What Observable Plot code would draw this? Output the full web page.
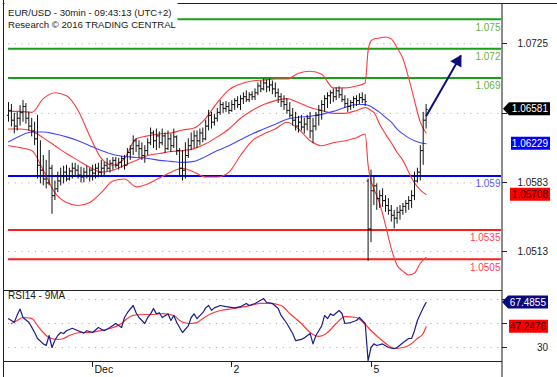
<!DOCTYPE html>
<html><head><meta charset="utf-8">
<script src="https://cdn.jsdelivr.net/npm/d3@7"></script>
<script src="https://cdn.jsdelivr.net/npm/@observablehq/plot@0.6"></script>
<style>
body{margin:0;background:#fff;}
#chart{position:relative;width:557px;height:377px;overflow:hidden;background:#fff;font-family:"Liberation Sans",Arial,sans-serif;}
#chart svg{position:absolute;left:0;display:block;}
</style></head><body><div id="chart"></div>
<script>
// ---------- DATA ----------
const titleLine1 = "EUR/USD - 30min - 09:43:13 (UTC+2)";
const titleLine2 = "Research \u00A9 2016 TRADING CENTRAL";
const rsiTitle = "RSI14 - 9MA";

const barOpen = [
1.0652,1.0657,1.0647,1.0641,1.0649,1.0655,1.0661,1.0649,1.0641,1.0636,
1.0628,1.0601,1.0596,1.0587,1.0583,1.0598,1.0570,1.0577,1.0585,1.0590,
1.0594,1.0587,1.0595,1.0598,1.0596,1.0591,1.0589,1.0594,1.0590,1.0596,
1.0593,1.0598,1.0594,1.0598,1.0601,1.0598,1.0603,1.0606,1.0601,1.0604,
1.0608,1.0601,1.0614,1.0618,1.0626,1.0621,1.0618,1.0611,1.0616,1.0624,
1.0634,1.0626,1.0631,1.0624,1.0631,1.0618,1.0628,1.0621,1.0630,1.0616,
1.0598,1.0596,1.0611,1.0621,1.0626,1.0631,1.0626,1.0634,1.0628,1.0641,
1.0652,1.0645,1.0649,1.0655,1.0663,1.0659,1.0661,1.0657,1.0663,1.0667,
1.0663,1.0669,1.0671,1.0668,1.0673,1.0671,1.0675,1.0682,1.0679,1.0685,
1.0681,1.0683,1.0679,1.0675,1.0671,1.0666,1.0663,1.0657,1.0652,1.0647,
1.0641,1.0645,1.0640,1.0643,1.0649,1.0636,1.0641,1.0652,1.0657,1.0663,
1.0669,1.0672,1.0675,1.0671,1.0677,1.0673,1.0668,1.0664,1.0661,1.0665,
1.0669,1.0667,1.0670,1.0668,1.0585,1.0536,1.0575,1.0580,1.0567,1.0570,
1.0565,1.0560,1.0555,1.0550,1.0547,1.0553,1.0555,1.0559,1.0562,1.0565,
1.0570,1.0585,1.0594,1.0616,1.0647];
const barHigh = [
1.0665,1.0663,1.0654,1.0655,1.0662,1.0667,1.0664,1.0655,1.0649,1.0645,
1.0652,1.0626,1.0611,1.0606,1.0616,1.0601,1.0585,1.0594,1.0598,1.0600,
1.0601,1.0598,1.0603,1.0603,1.0601,1.0599,1.0598,1.0600,1.0598,1.0601,
1.0602,1.0603,1.0606,1.0604,1.0608,1.0606,1.0609,1.0609,1.0608,1.0610,
1.0611,1.0618,1.0621,1.0631,1.0628,1.0626,1.0624,1.0621,1.0628,1.0639,
1.0636,1.0638,1.0635,1.0638,1.0634,1.0636,1.0633,1.0638,1.0631,1.0618,
1.0616,1.0624,1.0628,1.0634,1.0636,1.0636,1.0638,1.0639,1.0647,1.0657,
1.0655,1.0653,1.0659,1.0667,1.0665,1.0666,1.0665,1.0667,1.0669,1.0671,
1.0672,1.0675,1.0677,1.0675,1.0676,1.0679,1.0685,1.0687,1.0689,1.0688,
1.0689,1.0687,1.0685,1.0679,1.0674,1.0672,1.0669,1.0665,1.0659,1.0655,
1.0651,1.0652,1.0649,1.0652,1.0655,1.0649,1.0655,1.0662,1.0667,1.0672,
1.0675,1.0677,1.0679,1.0680,1.0681,1.0679,1.0672,1.0669,1.0667,1.0671,
1.0672,1.0674,1.0675,1.0673,1.0587,1.0596,1.0590,1.0582,1.0575,1.0577,
1.0570,1.0567,1.0560,1.0555,1.0558,1.0560,1.0562,1.0565,1.0569,1.0575,
1.0594,1.0598,1.0621,1.0655,1.0663];
const barLow = [
1.0645,1.0640,1.0633,1.0636,1.0641,1.0645,1.0643,1.0636,1.0630,1.0621,
1.0587,1.0582,1.0580,1.0577,1.0580,1.0551,1.0565,1.0573,1.0580,1.0582,
1.0584,1.0585,1.0587,1.0590,1.0587,1.0583,1.0583,1.0587,1.0584,1.0585,
1.0587,1.0588,1.0589,1.0590,1.0594,1.0593,1.0596,1.0598,1.0596,1.0598,
1.0596,1.0601,1.0606,1.0611,1.0614,1.0608,1.0606,1.0603,1.0611,1.0621,
1.0618,1.0616,1.0618,1.0621,1.0613,1.0616,1.0614,1.0618,1.0611,1.0590,
1.0585,1.0587,1.0608,1.0616,1.0618,1.0618,1.0621,1.0624,1.0626,1.0636,
1.0638,1.0641,1.0645,1.0652,1.0654,1.0655,1.0653,1.0655,1.0657,1.0659,
1.0657,1.0663,1.0665,1.0665,1.0667,1.0667,1.0672,1.0675,1.0677,1.0675,
1.0676,1.0673,1.0670,1.0664,1.0660,1.0657,1.0653,1.0649,1.0641,1.0636,
1.0634,1.0636,1.0633,1.0636,1.0628,1.0623,1.0636,1.0641,1.0647,1.0655,
1.0659,1.0663,1.0665,1.0667,1.0669,1.0665,1.0659,1.0655,1.0657,1.0659,
1.0661,1.0663,1.0664,1.0661,1.0503,1.0522,1.0560,1.0555,1.0557,1.0558,
1.0553,1.0550,1.0543,1.0536,1.0541,1.0545,1.0550,1.0552,1.0555,1.0557,
1.0565,1.0583,1.0585,1.0601,1.0638];
const barClose = [
1.0657,1.0647,1.0641,1.0649,1.0655,1.0661,1.0649,1.0641,1.0636,1.0628,
1.0601,1.0596,1.0587,1.0583,1.0598,1.0570,1.0577,1.0585,1.0590,1.0594,
1.0587,1.0595,1.0598,1.0596,1.0591,1.0589,1.0594,1.0590,1.0596,1.0593,
1.0598,1.0594,1.0598,1.0601,1.0598,1.0603,1.0606,1.0601,1.0604,1.0608,
1.0601,1.0614,1.0618,1.0626,1.0621,1.0618,1.0611,1.0616,1.0624,1.0634,
1.0626,1.0631,1.0624,1.0631,1.0618,1.0628,1.0621,1.0630,1.0616,1.0598,
1.0596,1.0611,1.0621,1.0626,1.0631,1.0626,1.0634,1.0628,1.0641,1.0652,
1.0645,1.0649,1.0655,1.0663,1.0659,1.0661,1.0657,1.0663,1.0667,1.0663,
1.0669,1.0671,1.0668,1.0673,1.0671,1.0675,1.0682,1.0679,1.0685,1.0681,
1.0683,1.0679,1.0675,1.0671,1.0666,1.0663,1.0657,1.0652,1.0647,1.0641,
1.0645,1.0640,1.0643,1.0649,1.0636,1.0641,1.0652,1.0657,1.0663,1.0669,
1.0672,1.0675,1.0671,1.0677,1.0673,1.0668,1.0664,1.0661,1.0665,1.0669,
1.0667,1.0670,1.0668,1.0666,1.0536,1.0575,1.0580,1.0567,1.0570,1.0565,
1.0560,1.0555,1.0550,1.0547,1.0553,1.0555,1.0559,1.0562,1.0565,1.0570,
1.0585,1.0594,1.0616,1.0647,1.0658];

// Bollinger bands and blue moving average, read at these bar indices
const bandIdx = [0,4,8,12,16,20,24,28,32,36,40,44,48,52,56,60,64,68,72,76,80,84,88,92,96,100,104,108,112,116,120,123,124,125,126,128,130,132,134,136,138,140,142,144];
const bandUpper = [1.0656,1.0656,1.0655,1.0669,1.0675,1.0672,1.0657,1.0631,1.0608,1.0601,1.0608,1.0628,1.0631,1.0633,1.0634,1.0637,1.0639,1.0649,1.0665,1.0678,1.0684,1.0687,1.0688,1.0689,1.0689,1.0695,1.0697,1.0694,1.0680,1.0680,1.0682,1.0685,1.0718,1.0728,1.0730,1.0731,1.0732,1.0730,1.0721,1.0710,1.0690,1.0667,1.0645,1.0634];
const bandMid = [1.0638,1.0638,1.0636,1.0629,1.0621,1.0613,1.0606,1.0599,1.0594,1.0596,1.0601,1.0606,1.0611,1.0613,1.0615,1.0616,1.0618,1.0623,1.0630,1.0638,1.0649,1.0657,1.0663,1.0667,1.0669,1.0665,1.0660,1.0657,1.0654,1.0654,1.0657,1.0660,1.0659,1.0657,1.0655,1.0643,1.0633,1.0624,1.0614,1.0606,1.0594,1.0583,1.0576,1.0571];
const bandLower = [1.0621,1.0619,1.0616,1.0596,1.0573,1.0563,1.0560,1.0563,1.0573,1.0585,1.0587,1.0579,1.0582,1.0588,1.0594,1.0598,1.0594,1.0589,1.0589,1.0594,1.0611,1.0626,1.0633,1.0638,1.0645,1.0638,1.0626,1.0621,1.0624,1.0626,1.0629,1.0633,1.0601,1.0585,1.0577,1.0562,1.0540,1.0516,1.0499,1.0493,1.0489,1.0491,1.0501,1.0507];
const maBlue = [1.0625,1.0631,1.0635,1.0635,1.0633,1.0630,1.0626,1.0621,1.0616,1.0612,1.0610,1.0609,1.0608,1.0606,1.0605,1.0604,1.0605,1.0610,1.0616,1.0621,1.0627,1.0633,1.0638,1.0643,1.0648,1.0650,1.0651,1.0653,1.0656,1.0660,1.0663,1.0663,1.0662,1.0661,1.0659,1.0655,1.0650,1.0645,1.0638,1.0633,1.0629,1.0626,1.0624,1.0623];

// RSI(14) and its 9-period MA
const rsiIdx = [0,2,3,4,5,7,8,9,10,12,13,14,15,16,17,18,19,20,22,24,26,27,29,31,33,35,37,39,40,41,43,44,45,47,48,49,50,51,52,53,55,56,57,58,59,60,62,63,64,65,67,68,69,70,71,73,75,78,80,82,83,85,88,89,91,93,94,96,98,99,101,102,104,105,106,107,108,109,110,111,112,114,115,116,118,120,121,122,123,124,125,126,127,129,131,133,134,136,138,139,140,141,142,143,144];
const rsiVal = [54,51,57,62,55,51,47,42.5,37.5,33,31.7,40,30,36,40,42.5,41.7,44,46,44,42,44,42.5,46.7,44,46.7,50,46.7,55,59,65,59,55,50,55,58,62.5,58,59,55,58,52.5,56.7,51,46.7,42.5,48,55,58,54,59,63,65,61,63,65,64,63,64,66.7,65,66.7,70.8,67.5,66.7,62.5,56.7,50,41.7,35.8,36.7,38,41.7,33,40,44,48,56.7,54,58,56.7,60.8,58.3,50,50.8,52.5,55,52.5,50,19,30,33,31.7,33,30,29,30,34,37.5,37.5,44,52.5,58,63,67.49];
const rsiMaIdx = [1,3,5,8,10,12,14,17,19,21,25,28,32,35,39,41,43,47,50,53,57,59,62,65,67,70,73,78,82,87,90,94,97,101,104,107,110,113,116,120,122,125,128,131,133,136,138,141,143,144];
const rsiMaVal = [50,52.5,55,54.2,48.3,42.5,38.3,36.7,37.5,40,42.5,42.5,44.2,45.8,50,54.2,56.7,57.5,57.5,58.3,56.7,52.5,50,50.8,54.2,58.3,60.8,62.5,64.2,66.7,66.7,65,58.3,50,42.5,39.2,42.5,50,55.8,55,51.7,44.2,37.5,31.7,29.2,30,31.7,37.5,41.7,47.25];

// horizontal levels
const levelValues = [1.075, 1.072, 1.069, 1.059, 1.0535, 1.0505];
const levelLabels = ["1.075", "1.072", "1.069", "1.059", "1.0535", "1.0505"];
const levelKinds  = ["res", "res", "res", "pivot", "sup", "sup"];

// axes (labels of ticks hidden behind the value badges are left blank)
const priceTicks = [1.0725, 1.0654, 1.0583, 1.0513];
const priceTickLabels = ["1.0725", "", "1.0583", "1.0513"];
const rsiTicks = [70, 50, 30];
const rsiTickLabels = ["", "", "30"];
const dayTickIdx = [29, 77, 125];
const dayTickLabels = ["Dec", "2", "5"];

// current-value badges
const lastPrice = 1.06581, lastPriceLabel = "1.06581";
const lastMa = 1.06229, lastMaLabel = "1.06229";
const lastMid = 1.05708, lastMidLabel = "1.05708";
const lastRsi = 67.4855, lastRsiLabel = "67.4855";
const lastRsiMa = 47.2476, lastRsiMaLabel = "47.2476";

// forecast arrow
const arrowIdx = [144, 156];
const arrowPrice = [1.0651, 1.0713];

// ---------- BUILD ----------
const W = 557, H_MAIN = 290, H_RSI = 87;
const FONT = '"Liberation Sans", Arial, sans-serif';
const lineColor = {res: "#17a017", pivot: "#0000ff", sup: "#ff1c1c"};
const labelColor = {res: "#6aaf3a", pivot: "#5a5aff", sup: "#ff3c5a"};

const bars = barOpen.map((o, i) => ({i, o, h: barHigh[i], l: barLow[i], c: barClose[i]}));
const bands = bandIdx.map((i, k) => ({i, up: bandUpper[k], mid: bandMid[k], lo: bandLower[k], ma: maBlue[k]}));
const levels = levelValues.map((v, k) => ({v, label: levelLabels[k], kind: levelKinds[k]}));
const rsiData = rsiIdx.map((i, k) => ({i, v: rsiVal[k]}));
const rsiMaData = rsiMaIdx.map((i, k) => ({i, v: rsiMaVal[k]}));
const arrowData = [{x1: arrowIdx[0], x2: arrowIdx[1], y1: arrowPrice[0], y2: arrowPrice[1]}];

const xOpts = {domain: [0, 144], range: [8, 425.6], axis: null};
const common = {width: W, marginLeft: 8, marginRight: 55, marginTop: 0, marginBottom: 0,
  style: {background: "transparent", fontFamily: FONT, fontSize: "10px", overflow: "visible"},
  color: {type: "identity"}};

const main = Plot.plot({
  ...common, height: H_MAIN,
  x: xOpts,
  y: {domain: [1.0513, 1.0725], range: [251, 43.3], axis: null},
  marks: [
    Plot.ruleY(priceTicks, {stroke: "#b0b0b0", strokeDasharray: "1.2,5.5"}),
    Plot.ruleY(levels, {y: "v", stroke: d => lineColor[d.kind], strokeWidth: 2}),
    Plot.line(bands, {x: "i", y: "up", stroke: "#ff3a3a", strokeWidth: 1.1, curve: "monotone-x"}),
    Plot.line(bands, {x: "i", y: "mid", stroke: "#ff3a3a", strokeWidth: 1.1, curve: "monotone-x"}),
    Plot.line(bands, {x: "i", y: "lo", stroke: "#ff3a3a", strokeWidth: 1.1, curve: "monotone-x"}),
    Plot.line(bands, {x: "i", y: "ma", stroke: "#4646ff", strokeWidth: 1.1, curve: "monotone-x"}),
    Plot.ruleX(bars, {x: "i", y1: "l", y2: "h", stroke: "#111", strokeWidth: 1}),
    Plot.link(bars, {x1: d => d.i - 0.55, x2: "i", y1: "o", y2: "o", stroke: "#111", strokeWidth: 1}),
    Plot.link(bars, {x1: "i", x2: d => d.i + 0.55, y1: "c", y2: "c", stroke: "#111", strokeWidth: 1}),
    Plot.text(levels, {y: "v", text: "label", frameAnchor: "right", textAnchor: "end", dx: -2, dy: 8,
      fill: d => labelColor[d.kind], fontSize: 10}),
    Plot.link(arrowData, {x1: "x1", x2: "x2", y1: "y1", y2: "y2", stroke: "#0d0d80", strokeWidth: 2}),
    Plot.dot(arrowData, {x: "x2", y: "y2", symbol: "triangle", r: 4.8, fill: "#0d0d80", stroke: "none",
      rotate: 30, dx: -3.2, dy: 5.6})
  ]
});

const rsi = Plot.plot({
  ...common, height: H_RSI,
  x: xOpts,
  y: {domain: [30, 70], range: [57, 9], axis: null},
  marks: [
    Plot.ruleY(rsiTicks, {stroke: "#b0b0b0", strokeDasharray: "1.2,5.5"}),
    Plot.line(rsiMaData, {x: "i", y: "v", stroke: "#ff3a3a", strokeWidth: 1.2, curve: "monotone-x"}),
    Plot.line(rsiData, {x: "i", y: "v", stroke: "#1c1c8c", strokeWidth: 1.2})
  ]
});

const root = document.getElementById("chart");
main.style.top = "0px";
rsi.style.top = H_MAIN + "px";
root.appendChild(main);
root.appendChild(rsi);

function scaleFn(chart, name) {
  const s = chart.scale(name);
  if (s && typeof s.apply === "function") return v => s.apply(v);
  return d3.scaleLinear(s.domain, s.range);
}
const yMain = scaleFn(main, "y");
const yRsi = v => H_MAIN + scaleFn(rsi, "y")(v);
const xBar = scaleFn(main, "x");

// ---------- OVERLAY (frame, axes, badges, titles) ----------
const ov = d3.select(root).append("svg")
  .attr("width", W).attr("height", 377)
  .style("top", "0px").style("pointer-events", "none")
  .style("font-family", FONT).style("font-size", "10px");

const AX = 502;
ov.append("line").attr("x1", 3.5).attr("x2", 3.5).attr("y1", 0).attr("y2", 377).attr("stroke", "#222");
ov.append("line").attr("x1", 3.5).attr("x2", W).attr("y1", 3.5).attr("y2", 3.5).attr("stroke", "#222");
ov.append("line").attr("x1", AX).attr("x2", AX).attr("y1", 4).attr("y2", 377).attr("stroke", "#8a8a8a").attr("stroke-width", 2);
ov.append("line").attr("x1", 3.5).attr("x2", AX).attr("y1", 290.5).attr("y2", 290.5).attr("stroke", "#222");
ov.append("line").attr("x1", 3.5).attr("x2", AX).attr("y1", 361.5).attr("y2", 361.5).attr("stroke", "#222");

// price axis
priceTicks.forEach((v, k) => {
  const y = Math.round(yMain(v)) + 0.5;
  ov.append("line").attr("x1", AX).attr("x2", AX + 5).attr("y1", y).attr("y2", y).attr("stroke", "#222");
  if (priceTickLabels[k]) ov.append("text").attr("x", 548).attr("y", y).attr("dy", "0.35em").attr("text-anchor", "end")
    .attr("fill", "#222").text(priceTickLabels[k]);
});
// rsi axis
rsiTicks.forEach((v, k) => {
  const y = Math.round(yRsi(v)) + 0.5;
  ov.append("line").attr("x1", AX).attr("x2", AX + 5).attr("y1", y).attr("y2", y).attr("stroke", "#222");
  if (rsiTickLabels[k]) ov.append("text").attr("x", 548).attr("y", y).attr("dy", "0.35em").attr("text-anchor", "end")
    .attr("fill", "#222").text(rsiTickLabels[k]);
});
// day ticks
dayTickIdx.forEach((i, k) => {
  const x = Math.round(xBar(i)) + 0.5;
  ov.append("line").attr("x1", x).attr("x2", x).attr("y1", 362).attr("y2", 367).attr("stroke", "#222");
  ov.append("text").attr("x", x + 2).attr("y", 373).attr("fill", "#111").style("font-size", "10.5px").text(dayTickLabels[k]);
});

function badge(yc, xl, xr, label, bg, fg, arrow) {
  const h = 6.5;
  const p = arrow
    ? `M${xl},${yc} L${xl + 6},${yc - h} L${xr},${yc - h} L${xr},${yc + h} L${xl + 6},${yc + h} Z`
    : `M${xl},${yc - h} L${xr},${yc - h} L${xr},${yc + h} L${xl},${yc + h} Z`;
  ov.append("path").attr("d", p).attr("fill", bg);
  ov.append("text").attr("x", xr - 2).attr("y", yc).attr("dy", "0.35em").attr("text-anchor", "end")
    .attr("fill", fg).text(label);
}
badge(yMain(lastPrice), 503, 550, lastPriceLabel, "#000", "#fff", true);
badge(yMain(lastMa), 511, 550, lastMaLabel, "#0000ff", "#fff", false);
badge(yMain(lastMid), 510, 550, lastMidLabel, "#ff0000", "#300", false);
badge(yRsi(lastRsi), 502, 548, lastRsiLabel, "#0a0a80", "#fff", true);
badge(yRsi(lastRsiMa), 509, 548, lastRsiMaLabel, "#ff0000", "#300", false);

// titles
ov.append("rect").attr("x", 4.5).attr("y", 0).attr("width", 173).attr("height", 31).attr("fill", "#fff");
ov.append("text").attr("x", 8).attr("y", 15.5).attr("fill", "#1a1a1a").style("font-size", "9.6px").text(titleLine1);
ov.append("text").attr("x", 8).attr("y", 27.5).attr("fill", "#1a1a1a").style("font-size", "9.6px").text(titleLine2);
ov.append("rect").attr("x", 4.5).attr("y", 291.5).attr("width", 61).attr("height", 9).attr("fill", "#fff");
ov.append("text").attr("x", 8).attr("y", 298.5).attr("fill", "#1a1a1a").text(rsiTitle);
</script>
</body></html>
